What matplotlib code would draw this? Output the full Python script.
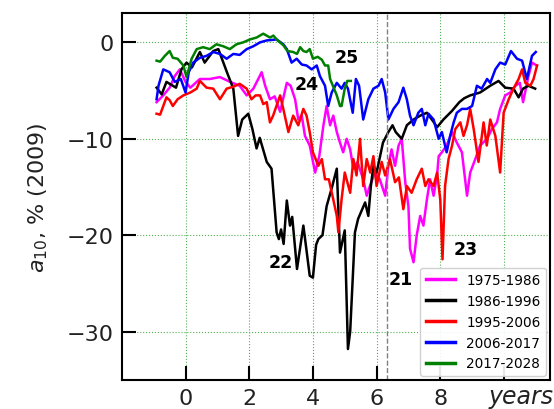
import matplotlib
matplotlib.use("Agg")
import matplotlib.pyplot as plt
import matplotlib.transforms as mtransforms

# years relative to cycle start, a10 deviation in % (2009)
x_1975 = [-0.91, -0.7, -0.5, -0.34, -0.18, 0.0, 0.15, 0.45, 0.76, 1.08, 1.4, 1.7, 1.92, 2.13, 2.39, 2.5,
          2.65, 2.8, 2.97, 3.18, 3.3, 3.44, 3.54, 3.65, 3.75, 3.9, 4.07, 4.2, 4.33, 4.43, 4.54, 4.64,
          4.75, 4.85, 4.95, 5.06, 5.17, 5.27, 5.4, 5.58, 5.69, 5.8, 5.95, 6.1, 6.27, 6.37, 6.47, 6.58,
          6.69, 6.79, 6.9, 7.0, 7.05, 7.16, 7.26, 7.37, 7.47, 7.58, 7.68, 7.79, 7.9, 7.95, 8.05, 8.2,
          8.37, 8.52, 8.68, 8.84, 8.94, 9.1, 9.25, 9.47, 9.62, 9.78, 9.88, 10.04, 10.2, 10.36, 10.5,
          10.6, 10.77, 10.88, 11.03]
y_1975 = [-6.2, -5.5, -4.7, -3.5, -2.8, -4.1, -4.7, -3.8, -3.8, -3.6, -4.1, -4.5, -5.5, -4.8, -3.1, -4.5,
          -5.9, -5.6, -7.2, -4.2, -4.5, -5.9, -8.0, -7.6, -9.7, -10.7, -13.5, -11.8, -8.6, -6.6, -8.6, -7.6,
          -9.3, -10.4, -11.4, -10.0, -11.1, -13.1, -12.4, -14.2, -15.9, -14.8, -13.5, -14.2, -15.9, -12.8, -11.1, -12.8,
          -10.7, -10.0, -14.5, -17.0, -21.4, -22.8, -20.0, -18.0, -19.0, -16.3, -14.2, -15.9, -13.8, -11.8, -11.4, -10.7,
          -9.3, -10.4, -11.4, -15.9, -13.5, -12.1, -10.7, -10.0, -9.0, -8.3, -6.9, -5.5, -5.2, -4.5, -4.2,
          -6.2, -3.5, -2.1, -2.4]

x_1986 = [-0.91, -0.75, -0.6, -0.3, -0.13, 0.03, 0.2, 0.45, 0.6, 0.87, 1.03, 1.3, 1.5, 1.65, 1.78, 1.97,
          2.1, 2.23, 2.33, 2.55, 2.7, 2.86, 2.93, 3.0, 3.08, 3.18, 3.28, 3.35, 3.5, 3.7, 3.9, 4.0,
          4.1, 4.17, 4.3, 4.43, 4.6, 4.75, 4.85, 5.0, 5.1, 5.17, 5.32, 5.42, 5.64, 5.74, 5.82, 5.9,
          6.0, 6.11, 6.2, 6.37, 6.5, 6.6, 6.79, 6.95, 7.16, 7.37, 7.58, 7.8, 7.9, 8.1, 8.37, 8.6,
          8.75, 8.94, 9.25, 9.57, 9.83, 10.04, 10.3, 10.46, 10.6, 10.77, 10.98]
y_1986 = [-4.7, -5.4, -4.1, -4.7, -2.8, -2.1, -2.6, -1.0, -2.1, -0.9, -0.7, -3.1, -4.8, -9.7, -8.0, -7.4,
          -9.0, -11.0, -9.9, -12.4, -13.1, -19.7, -20.4, -19.4, -20.9, -16.4, -19.0, -18.1, -23.5, -19.0, -24.2, -24.4,
          -21.0, -20.4, -20.0, -17.0, -15.0, -13.1, -21.8, -19.5, -31.8, -30.0, -19.7, -18.3, -16.6, -18.0, -14.9, -12.8,
          -13.5, -11.8, -10.4, -9.3, -8.6, -9.3, -10.0, -8.6, -8.0, -7.6, -7.3, -8.3, -8.8, -8.0, -7.1, -6.2,
          -5.8, -5.5, -5.2, -4.5, -4.0, -4.7, -4.8, -5.7, -4.8, -4.5, -4.8]

x_1995 = [-0.91, -0.8, -0.7, -0.6, -0.5, -0.4, -0.25, -0.07, 0.15, 0.35, 0.45, 0.66, 0.87, 1.08, 1.29, 1.5,
          1.7, 1.92, 2.07, 2.2, 2.34, 2.44, 2.55, 2.65, 2.75, 2.97, 3.07, 3.23, 3.38, 3.54, 3.7, 3.8,
          3.9, 4.0, 4.17, 4.28, 4.38, 4.5, 4.64, 4.75, 4.8, 4.9, 5.0, 5.17, 5.27, 5.37, 5.48, 5.58,
          5.69, 5.8, 5.9, 6.0, 6.16, 6.27, 6.42, 6.58, 6.7, 6.84, 6.95, 7.1, 7.26, 7.42, 7.53, 7.63,
          7.79, 7.9, 8.0, 8.07, 8.15, 8.26, 8.37, 8.47, 8.63, 8.73, 8.84, 8.94, 9.05, 9.2, 9.36, 9.46,
          9.57, 9.73, 9.88, 9.99, 10.15, 10.3, 10.46, 10.57, 10.67, 10.83, 10.93, 11.04]
y_1995 = [-7.4, -7.5, -6.6, -5.7, -6.0, -6.6, -5.9, -5.5, -5.2, -4.8, -4.0, -4.7, -4.8, -5.9, -4.8, -4.6,
          -4.3, -4.8, -5.9, -5.5, -5.5, -6.4, -6.2, -8.3, -7.6, -5.5, -6.9, -9.3, -7.6, -8.6, -6.9, -7.6,
          -9.3, -11.4, -12.8, -12.1, -14.2, -14.2, -16.3, -18.0, -19.7, -16.3, -13.5, -15.6, -12.1, -13.8, -10.0, -14.9,
          -12.1, -13.5, -11.8, -14.9, -12.4, -13.8, -12.1, -14.5, -14.0, -17.3, -14.9, -15.6, -14.2, -13.1, -14.9, -14.2,
          -14.9, -13.5, -16.3, -22.5, -14.9, -12.1, -10.7, -9.0, -8.3, -9.7, -8.6, -6.9, -9.0, -12.4, -8.3, -10.7,
          -8.0, -9.7, -13.5, -7.3, -5.9, -4.8, -3.8, -2.8, -4.2, -4.5, -3.8, -2.4]

x_2006 = [-0.91, -0.85, -0.7, -0.5, -0.34, -0.15, 0.0, 0.1, 0.24, 0.45, 0.66, 0.87, 1.08, 1.29, 1.5, 1.7,
          1.92, 2.13, 2.34, 2.55, 2.86, 3.07, 3.18, 3.33, 3.49, 3.65, 3.8, 3.96, 4.12, 4.22, 4.38, 4.48,
          4.59, 4.75, 4.9, 5.0, 5.1, 5.25, 5.35, 5.45, 5.58, 5.74, 5.9, 6.06, 6.16, 6.27, 6.37, 6.53,
          6.69, 6.84, 6.95, 7.05, 7.16, 7.31, 7.42, 7.53, 7.63, 7.79, 7.95, 8.05, 8.2, 8.31, 8.42, 8.52,
          8.68, 8.84, 9.0, 9.15, 9.3, 9.47, 9.57, 9.73, 9.88, 10.04, 10.22, 10.41, 10.57, 10.72, 10.88, 11.0]
y_2006 = [-5.9, -4.5, -2.8, -3.1, -4.1, -3.8, -5.2, -3.1, -2.1, -1.6, -1.4, -1.0, -1.2, -1.7, -1.2, -1.3,
          -0.7, -0.4, 0.0, 0.2, 0.3, -0.2, -0.7, -2.1, -1.7, -2.3, -2.4, -2.8, -2.4, -3.5, -4.5, -6.6,
          -5.2, -4.2, -4.8, -4.2, -4.8, -7.3, -3.8, -4.5, -8.0, -5.9, -4.8, -4.5, -3.8, -5.2, -8.0, -6.9,
          -6.2, -4.7, -5.9, -7.6, -8.6, -7.3, -6.9, -8.6, -7.4, -8.0, -10.0, -9.3, -11.4, -9.7, -8.3, -7.3,
          -6.9, -6.9, -6.6, -4.5, -4.8, -3.8, -4.2, -2.8, -2.1, -2.3, -0.9, -1.7, -1.9, -3.8, -1.4, -1.0]

x_2017 = [-0.91, -0.8, -0.65, -0.5, -0.4, -0.25, -0.07, 0.03, 0.19, 0.35, 0.55, 0.76, 0.97, 1.18, 1.39, 1.6,
          1.81, 2.02, 2.23, 2.44, 2.65, 2.76, 2.86, 3.07, 3.2, 3.38, 3.5, 3.6, 3.7, 3.8, 3.9, 4.0,
          4.15, 4.28, 4.38, 4.48, 4.54, 4.64, 4.75, 4.85, 4.9, 5.0, 5.08, 5.19]
y_2017 = [-1.9, -2.0, -1.4, -0.9, -1.6, -1.7, -2.4, -3.6, -1.7, -0.7, -0.5, -0.7, -0.2, -0.4, -0.7, -0.2,
          0.0, 0.3, 0.5, 0.9, 0.5, 0.7, 0.3, -0.3, -0.9, -1.0, -1.2, -0.5, -0.9, -1.0, -0.7, -1.7,
          -1.5, -1.8, -2.4, -2.4, -3.8, -4.6, -5.5, -6.6, -6.6, -4.8, -4.0, -4.0]

cycle_labels = ["1975-1986", "1986-1996", "1995-2006", "2006-2017", "2017-2028"]
cycle_colors = ["magenta", "black", "red", "blue", "green"]

# cycle numbers written next to their minima
cycle_nums = ["22", "24", "25", "21", "23"]
num_x = [3.0, 3.8, 5.05, 6.75, 8.8]
num_y = [-22.8, -4.3, -1.5, -24.5, -21.4]

fig = plt.figure(figsize=(5.54, 4.10), dpi=100)
ax = fig.add_axes([0.220, 0.071, 0.773, 0.895])

series = [(x_1975, y_1975), (x_1986, y_1986), (x_1995, y_1995), (x_2006, y_2006), (x_2017, y_2017)]
for (xs, ys), lab, col in zip(series, cycle_labels, cycle_colors):
    ax.plot(xs, ys, color=col, lw=1.8, label=lab)

ax.axvline(6.32, color="gray", ls="--", lw=1.0)

for t, tx, ty in zip(cycle_nums, num_x, num_y):
    ax.text(tx, ty, t, fontsize=12.5, fontweight="bold", ha="center", va="center")

ax.set_xlim(-2.0, 11.45)
ax.set_ylim(-35, 3.05)
ax.set_xticks([0, 2, 4, 6, 8, 10])
ax.set_xticklabels(["0", "2", "4", "6", "8", ""])
ax.set_yticks([0, -10, -20, -30])
ax.set_yticklabels(["0", "\u221210", "\u221220", "\u221230"])
ax.tick_params(direction="in", length=10, width=1.5, labelsize=16, pad=6,
               colors="black", labelcolor="#222222")
ax.grid(True, color="#55b055", ls=":", lw=0.8)
for sp in ax.spines.values():
    sp.set_linewidth(1.5)

ax.set_ylabel("$a_{10}$, % (2009)", fontsize=16, color="#222222", labelpad=12)
trans = mtransforms.blended_transform_factory(ax.transData, ax.transAxes)
ax.text(10.55, -0.045, "years", transform=trans, fontsize=17, style="italic",
        ha="center", va="center", color="#222222")

leg = ax.legend(loc="lower right", fontsize=9.8, handlelength=2.2, borderaxespad=0.3,
                framealpha=0.9, edgecolor="#cccccc", fancybox=True, labelspacing=0.5)
for h in leg.get_lines():
    h.set_linewidth(2.5)

fig.savefig("out.png", dpi=100)
